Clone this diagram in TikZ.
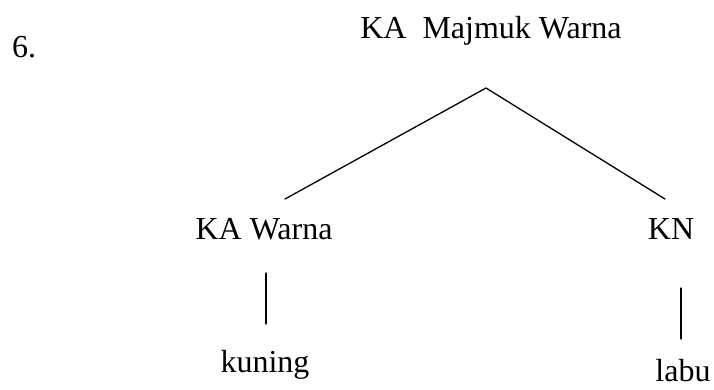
\documentclass[tikz,border=0pt]{standalone}
\usepackage{fontspec}
\setmainfont{Liberation Serif}
\begin{document}
\begin{tikzpicture}[x=1pt,y=-1pt,
  lbl/.style={inner sep=0pt,anchor=base,font=\fontsize{32}{38}\selectfont},
  edge/.style={line width=1.3pt,line cap=round}]
\useasboundingbox (0,0) rectangle (714,389);
\fill[white] (0,0) rectangle (714,389);
\node[lbl,anchor=base west] (num) at (12,57) {6.};
\node[lbl] (root) at (491,38) {KA\ \ Majmuk Warna};
\node[lbl] (kaw) at (264,239) {KA Warna};
\node[lbl] (kn) at (671,239) {KN};
\node[lbl] (kuning) at (265,372) {kuning};
\node[lbl] (labu) at (683,381) {labu};
\coordinate (apex) at (486,88);
\coordinate (lend) at (285,199);
\coordinate (rend) at (665,199);
\coordinate (lv1) at (266,273);
\coordinate (lv2) at (266,324);
\coordinate (rv1) at (681,288);
\coordinate (rv2) at (681,339);
\draw[edge] (lend) -- (apex) -- (rend);
\draw[edge] (lv1) -- (lv2);
\draw[edge] (rv1) -- (rv2);
\end{tikzpicture}
\end{document}
